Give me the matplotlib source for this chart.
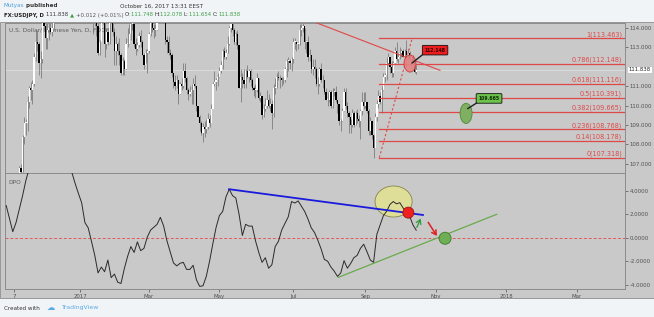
import numpy as np
import pandas as pd
import matplotlib
matplotlib.use('Agg')
import matplotlib.pyplot as plt
from matplotlib.patches import Ellipse, Rectangle
from matplotlib.transforms import blended_transform_factory

W, H = 654, 317

# daily USDJPY sessions from 2016-10-31 (weekdays), one row per week
first_open = 105.2
closes = [
    104.8, 104.1, 102.9, 103.1, 103.1,
    104.5, 105.3, 105.7, 106.8, 106.6,
    108.4, 109.1, 109.1, 110.2, 110.9,
    110.8, 111.1, 112.5, 113.3, 113.2,
    112.2, 112.4, 114.5, 114.1, 113.5,
    113.9, 114.0, 113.8, 114.0, 115.3,
    115.1, 115.4, 117.1, 118.1, 117.9,
    116.9, 117.9, 117.6, 117.5, 117.2,
    117.4, 117.4, 116.9, 116.5, 117.0,
    117.5, 117.8, 117.3, 115.4, 117.0,
    115.9, 115.7, 115.4, 114.4, 114.5,
    114.1, 112.7, 113.3, 115.0, 114.6,
    113.2, 113.8, 113.3, 115.3, 115.1,
    113.8, 112.8, 113.2, 112.8, 112.6,
    111.7, 112.3, 111.9, 113.2, 113.2,
    113.7, 114.2, 114.2, 113.2, 112.9,
    113.1, 113.6, 113.3, 112.6, 112.1,
    112.7, 112.8, 113.7, 114.4, 114.0,
    113.9, 113.9, 114.4, 115.0, 114.8,
    114.8, 114.8, 113.4, 113.3, 112.7,
    112.6, 111.7, 111.2, 111.0, 111.3,
    110.6, 111.1, 111.0, 111.8, 111.4,
    110.8, 110.6, 110.7, 110.8, 111.1,
    111.0, 110.0, 109.4, 109.1, 108.6,
    108.9, 108.8, 108.9, 109.3, 109.1,
    109.8, 111.1, 111.2, 111.3, 111.5,
    111.8, 112.1, 112.8, 112.5, 112.7,
    113.2, 114.0, 114.2, 113.9, 113.3,
    113.7, 113.1, 110.9, 111.5, 111.3,
    111.1, 111.8, 111.5, 111.8, 111.3,
    110.9, 110.8, 110.8, 111.4, 110.4,
    110.5, 109.5, 109.8, 110.0, 110.3,
    110.0, 110.1, 109.6, 110.9, 110.9,
    111.5, 111.4, 111.4, 111.3, 111.3,
    111.9, 112.3, 112.3, 112.2, 112.4,
    113.3, 113.3, 113.2, 113.2, 113.9,
    114.0, 114.1, 113.3, 113.3, 112.5,
    112.6, 111.9, 112.0, 111.9, 111.1,
    111.1, 111.9, 111.3, 111.3, 110.7,
    110.3, 110.3, 110.7, 110.0, 110.7,
    110.7, 110.3, 110.1, 109.2, 109.2,
    109.7, 110.7, 110.0, 109.6, 109.4,
    109.0, 109.6, 109.0, 109.6, 109.3,
    109.2, 109.7, 110.2, 110.0, 110.2,
    109.7, 108.7, 109.2, 108.5, 107.8,
    109.4, 110.1, 110.5, 110.2, 110.8,
    111.5, 111.6, 112.2, 112.5, 112.0,
    111.7, 112.2, 112.8, 112.4, 112.5,
    112.7, 112.8, 112.5, 112.8, 112.6,
    112.7, 112.4, 112.5, 112.3, 111.748,
    111.838,
]
highs = [
    105.4, 105.0, 104.2, 103.5, 103.5,
    104.8, 105.5, 105.9, 106.9, 107.0,
    108.5, 109.4, 109.3, 110.5, 111.0,
    111.2, 111.3, 112.7, 113.9, 113.9,
    113.3, 112.8, 114.8, 114.8, 114.3,
    114.6, 114.4, 114.6, 114.6, 115.4,
    116.1, 115.6, 117.2, 118.7, 118.6,
    117.9, 118.3, 118.2, 117.9, 117.6,
    117.6, 117.8, 117.8, 117.1, 117.1,
    117.5, 118.6, 117.9, 117.5, 117.2,
    117.1, 116.4, 116.9, 115.5, 115.2,
    114.6, 114.3, 113.4, 115.1, 115.4,
    114.5, 114.0, 113.8, 115.4, 115.4,
    115.0, 114.0, 113.6, 113.3, 113.5,
    112.7, 112.5, 112.4, 113.5, 114.0,
    114.2, 114.5, 114.9, 114.3, 113.5,
    113.3, 113.8, 113.9, 113.4, 112.7,
    112.9, 112.9, 113.8, 114.5, 114.7,
    114.2, 114.2, 114.6, 115.2, 115.5,
    115.1, 115.0, 115.2, 113.6, 113.6,
    112.9, 112.7, 111.7, 111.6, 111.6,
    110.9, 111.2, 111.4, 112.2, 112.2,
    111.5, 110.9, 111.0, 111.1, 111.4,
    111.6, 111.0, 110.0, 109.5, 109.2,
    109.1, 109.2, 109.3, 109.6, 109.5,
    110.1, 111.2, 111.8, 111.4, 111.7,
    112.0, 112.3, 112.9, 113.0, 112.9,
    113.6, 114.1, 114.4, 114.3, 114.0,
    113.8, 113.9, 113.0, 111.9, 111.7,
    111.9, 111.9, 112.1, 111.9, 111.9,
    111.4, 111.0, 111.1, 111.7, 111.4,
    110.7, 110.5, 110.1, 110.4, 110.8,
    110.6, 110.4, 110.3, 111.1, 111.4,
    111.7, 111.8, 111.6, 111.5, 111.5,
    112.0, 112.4, 112.5, 112.4, 112.5,
    113.5, 113.5, 113.3, 113.3, 114.2,
    114.2, 114.5, 114.0, 113.4, 113.6,
    112.9, 112.6, 112.4, 112.4, 112.0,
    111.5, 112.0, 112.2, 111.6, 111.3,
    110.9, 110.7, 110.8, 110.8, 110.9,
    110.9, 111.0, 110.3, 110.0, 109.3,
    109.9, 110.9, 110.9, 110.2, 109.7,
    109.3, 109.8, 109.7, 109.7, 109.8,
    109.5, 109.8, 110.7, 110.7, 110.7,
    110.2, 109.8, 109.4, 109.2, 108.5,
    109.6, 110.3, 110.8, 110.7, 111.0,
    111.7, 111.7, 112.5, 112.7, 112.5,
    112.3, 112.3, 113.0, 113.3, 112.7,
    113.0, 112.9, 112.9, 112.9, 113.4,
    112.9, 112.8, 112.6, 112.6, 112.3,
    112.078,
]
lows = [
    104.6, 103.9, 102.5, 102.6, 102.7,
    103.3, 104.4, 101.2, 105.4, 106.0,
    106.6, 108.0, 108.5, 108.7, 109.9,
    110.3, 110.1, 111.0, 112.3, 112.8,
    111.6, 111.4, 112.2, 113.9, 112.9,
    112.9, 113.4, 113.7, 113.6, 113.9,
    114.9, 114.9, 114.8, 116.9, 117.5,
    116.5, 116.6, 117.1, 117.2, 117.0,
    117.2, 117.2, 116.8, 116.0, 116.1,
    117.0, 117.2, 116.8, 115.1, 115.1,
    115.6, 115.4, 114.3, 113.7, 114.1,
    113.6, 112.6, 112.6, 113.8, 114.2,
    112.5, 112.9, 113.1, 113.2, 114.6,
    113.6, 112.1, 112.1, 112.6, 112.1,
    111.6, 111.6, 111.6, 111.9, 113.0,
    113.2, 113.4, 113.9, 113.0, 112.6,
    112.8, 113.0, 113.0, 112.6, 111.9,
    112.2, 111.7, 112.7, 113.6, 113.8,
    113.5, 113.6, 113.9, 114.3, 114.7,
    114.6, 114.5, 113.2, 112.7, 112.6,
    112.4, 111.5, 110.9, 110.8, 110.9,
    110.1, 110.6, 110.8, 110.9, 111.2,
    110.6, 110.3, 110.5, 110.1, 110.1,
    110.9, 109.7, 109.4, 108.7, 108.5,
    108.1, 108.4, 108.6, 108.8, 108.9,
    109.5, 109.9, 111.0, 110.8, 111.0,
    111.5, 111.7, 111.9, 112.4, 112.4,
    112.7, 113.1, 113.8, 113.6, 113.2,
    113.1, 112.9, 110.9, 110.2, 110.9,
    110.9, 110.9, 111.4, 111.2, 111.0,
    110.8, 110.5, 110.4, 110.7, 110.3,
    110.2, 109.3, 109.4, 109.7, 109.9,
    109.9, 109.7, 108.8, 109.4, 110.6,
    110.9, 111.3, 110.9, 111.0, 111.1,
    111.2, 111.5, 111.8, 111.9, 111.8,
    112.2, 112.9, 112.8, 112.9, 113.1,
    113.6, 113.8, 112.9, 112.7, 112.3,
    112.3, 111.7, 111.6, 111.4, 111.0,
    110.6, 111.0, 111.2, 110.9, 110.6,
    110.3, 110.0, 110.2, 109.9, 109.9,
    110.5, 110.2, 109.6, 109.0, 108.7,
    109.2, 109.7, 109.8, 109.4, 108.6,
    108.6, 108.9, 108.9, 109.0, 109.1,
    108.9, 108.3, 109.5, 109.8, 109.9,
    109.6, 108.5, 108.5, 108.3, 107.3,
    108.1, 109.2, 109.9, 110.1, 109.6,
    110.8, 111.2, 111.3, 112.1, 111.7,
    111.5, 111.5, 112.2, 112.3, 112.2,
    112.4, 112.5, 112.5, 112.4, 112.0,
    112.3, 112.3, 112.0, 112.1, 111.7,
    111.654,
]

# DPO, read every second session starting 2016-10-31
dpo_step = 2
dpo = [
    2.75, 1.65, 0.52, 1.3, 2.45, 3.6, 4.9, 5.9, 6.5, 7.2,
    7.8, 8.2, 8.4, 8.3, 8.0, 7.6, 7.2, 6.8, 6.4, 6.0,
    5.6, 4.66, 3.8, 3.0, 1.3, 0.85, -0.3, -1.5, -3.0, -2.5,
    -2.9, -1.9, -3.4, -3.1, -3.8, -3.9, -2.65, -1.6, -0.75, -1.25,
    -0.35, -1.1, -0.9, 0.05, 0.65, 0.9, 1.15, 1.75, 1.0, -0.25,
    -1.2, -2.15, -2.4, -2.18, -2.1, -2.7, -2.7, -2.35, -3.6, -4.15,
    -4.1, -3.3, -2.0, -0.5, 0.9, 1.9, 2.25, 3.5, 4.15, 3.6,
    3.4, 2.0, 0.2, 1.15, 1.0, 1.0, -0.25, -1.25, -2.1, -1.7,
    -2.6, -2.3, -0.75, -0.3, 0.67, 1.24, 1.8, 3.1, 2.97, 3.15,
    2.7, 2.25, 1.6, 0.85, 0.45, -0.2, -0.95, -1.85, -2.0, -2.5,
    -2.85, -3.3, -3.0, -1.95, -2.6, -2.2, -1.7, -1.5, -0.9, -0.55,
    -1.2, -1.9, -2.1, 0.3, 1.1, 1.9, 2.27, 2.85, 3.1, 2.9,
    3.0, 2.55, 2.2, 1.85, 1.1, 0.65,
]

fib_ratio = ['1', '0.786', '0.618', '0.5', '0.382', '0.236', '0.14', '0']
fib_price = [113.463, 112.148, 111.116, 110.391, 109.665, 108.768, 108.178, 107.318]

price_ticks = [107, 108, 109, 110, 111, 113, 114]
dpo_ticks = [-4, -2, 0, 2, 4]

tick_dates = ['2016-11-07', '2017-01-02', '2017-03-01', '2017-05-01', '2017-07-03',
              '2017-09-01', '2017-11-01', '2018-01-01', '2018-03-01']
tick_names = ['7', '2017', 'Mar', 'May', 'Jul', 'Sep', 'Nov', '2018', 'Mar']

sessions = pd.bdate_range('2016-10-31', periods=400)


def pos(d):
    return sessions.get_loc(pd.Timestamp(d))


BG = '#c9c9c9'
GRID = '#8c8c8c'
TXT = '#505050'
RED = '#e04848'
GREEN = '#3f9f47'

fig = plt.figure(figsize=(W / 100, H / 100), dpi=100, facecolor='#f1f4f6')
plt.rcParams['font.family'] = ['DejaVu Sans']


def fx(x, y):
    return x / W, 1 - y / H


# chart background, behind the axes
fig.patches.append(Rectangle(fx(0, 298), 1, (298 - 22) / H, transform=fig.transFigure,
                             fc=BG, ec=GRID, lw=0.6, zorder=-10))

ax = fig.add_axes([5 / W, 1 - 172.7 / H, 620 / W, (172.7 - 23) / H])
ax2 = fig.add_axes([5 / W, 1 - 289.3 / H, 620 / W, (289.3 - 173.3) / H])
x0, x1 = -0.73, 377.3
for a in (ax, ax2):
    a.set_facecolor(BG)
    a.set_xlim(x0, x1)
    for s in a.spines.values():
        s.set_color(GRID)
        s.set_linewidth(0.7)
    a.yaxis.tick_right()
    a.tick_params(axis='y', labelsize=3.9, colors=TXT, length=2.5, width=0.5, pad=1)

# --- candles
closes = np.array(closes)
highs = np.array(highs)
lows = np.array(lows)
opens = np.r_[first_open, closes[:-1]]
idx = np.arange(len(closes))
up = closes >= opens
lo_body = np.minimum(opens, closes)
h_body = np.maximum(np.abs(closes - opens), 0.04)
ax.vlines(idx, lows, highs, color='#6e6e6e', lw=0.5, zorder=2)
ax.bar(idx[up], h_body[up], bottom=lo_body[up], width=0.8, color='white', lw=0, zorder=3)
ax.bar(idx[~up], h_body[~up], bottom=lo_body[~up], width=0.8, color='black', lw=0, zorder=3)
ax.set_ylim(106.54, 114.26)
ax.set_yticks(price_ticks)
ax.set_yticklabels([f'{v:.3f}' for v in price_ticks])
ax.set_xticks([])
ax.axhline(closes[-1], color='#dedede', lw=0.6, zorder=1)
ax.text(0.006, 0.95, 'U.S. Dollar/Japanese Yen, D, FXCM', transform=ax.transAxes,
        fontsize=4.2, color='#5c5c5c', va='center', zorder=1)
tr = blended_transform_factory(ax.transAxes, ax.transData)
ax.text(1.006, closes[-1], '111.838', transform=tr, fontsize=3.9, color='#222',
        va='center', bbox=dict(fc='white', ec='none', pad=0.6))

# fibonacci retracement
fib_start = 227.5
for r, p in zip(fib_ratio, fib_price):
    ax.plot([fib_start, x1], [p, p], color=RED, lw=0.9, zorder=4)
    ax.text(375.5, p + 0.04, f'{r}({p:.3f})', color=RED, fontsize=4.7,
            ha='right', va='bottom', zorder=5)
ax.plot([fib_start, 247.5], [fib_price[-1], fib_price[0]], color=RED, lw=0.8,
        ls=(0, (2, 2)), zorder=4)

# trend line and callouts
ax.plot([189.5, 264.5], [114.26, 111.82], color=RED, lw=0.8, zorder=4)
ax.add_patch(Ellipse((246.2, 112.17), 7.3, 0.88, fc='#e38484', ec='#c83030', lw=0.6, alpha=0.9, zorder=5))
ax.plot([247.5, 255], [112.2, 112.7], color='#202020', lw=1.0, zorder=5)
ax.text(261.5, 112.86, '112.148', fontsize=3.3, fontweight='bold', color='#300000', ha='center',
        va='center', zorder=6, bbox=dict(boxstyle='round,pad=0.5,rounding_size=0.2', fc='#ee1c1c', ec='#111', lw=0.6))
ax.add_patch(Ellipse((280.4, 109.6), 7.3, 1.04, fc='#7fb062', ec='#4d8a3a', lw=0.6, zorder=5))
ax.plot([281.5, 289], [109.85, 110.25], color='#202020', lw=1.0, zorder=5)
ax.text(294.4, 110.37, '109.665', fontsize=3.3, fontweight='bold', color='#0c2a06', ha='center',
        va='center', zorder=6, bbox=dict(boxstyle='round,pad=0.5,rounding_size=0.2', fc='#6cc24a', ec='#111', lw=0.6))

# --- DPO panel
dpo_x = np.arange(len(dpo)) * dpo_step
ax2.plot(dpo_x, dpo, color='#2a2a2a', lw=0.7, zorder=3)
ax2.set_ylim(-4.40, 5.51)
ax2.set_yticks(dpo_ticks)
ax2.set_yticklabels([f'{v:.4f}' for v in dpo_ticks])
ax2.axhline(0, color='#e05a5a', lw=0.7, ls=(0, (3, 2)), zorder=2)
ax2.text(0.006, 0.92, 'DPO', transform=ax2.transAxes, fontsize=4.2, color='#5c5c5c', va='center')
ax2.set_xticks([pos(d) for d in tick_dates])
ax2.set_xticklabels(tick_names)
ax2.tick_params(axis='x', labelsize=3.9, colors=TXT, length=2, width=0.5, pad=1.2)

ax2.plot([135.9, 254.1], [4.15, 1.95], color='#1a1adc', lw=1.3, zorder=4)
ax2.plot([202.5, 299.1], [-3.38, 2.01], color='#6aaa4c', lw=0.9, zorder=4)
ax2.add_patch(Ellipse((236.2, 3.10), 22.6, 2.65, fc='#e6e68a', ec='#6b6b2a', lw=0.6, alpha=0.75, zorder=2))
ax2.add_patch(Ellipse((245.2, 2.15), 6.7, 0.94, fc='#ee2020', ec='#a01010', lw=0.6, zorder=5))
ax2.add_patch(Ellipse((267.6, -0.04), 7.3, 1.03, fc='#6fae55', ec='#3f7a2e', lw=0.6, zorder=5))
ax2.annotate('', xy=(253.4, 1.86), xytext=(249.7, 0.67),
             arrowprops=dict(arrowstyle='->,head_length=0.3,head_width=0.18', color='#2e9a3c', lw=0.9), zorder=6)
ax2.annotate('', xy=(263.5, -0.04), xytext=(256.4, 1.52),
             arrowprops=dict(arrowstyle='->,head_length=0.3,head_width=0.18', color='#e02020', lw=1.1), zorder=6)

# --- header and footer text
r = fig.canvas.get_renderer()


def row(x, y, parts, size=4.1):
    for s, c, bold in parts:
        t = fig.text(*fx(x, y), s, color=c, fontsize=size, va='center',
                     fontweight='bold' if bold else 'normal')
        x += t.get_window_extent(r).width


row(4, 6, [('Mutyas', '#4a9fdc', False), (' published', '#333333', True)])
fig.text(*fx(120, 6), 'October 16, 2017 13:31 EEST', color='#333333', fontsize=4.1, va='center')
row(4, 15, [('FX:USDJPY, D ', '#222222', True), ('111.838 ', '#333333', False),
            ('▲ ', GREEN, False), ('+0.012 (+0.01%) ', '#555555', False),
            ('O:', '#333333', False), ('111.748 ', GREEN, False),
            ('H:', '#333333', False), ('112.078 ', GREEN, False),
            ('L:', '#333333', False), ('111.654 ', GREEN, False),
            ('C:', '#333333', False), ('111.838', GREEN, False)], size=3.9)
fig.text(*fx(4, 308), 'Created with', color='#333333', fontsize=4.1, va='center')
fig.text(*fx(47, 308), '☁', color='#5aa9e6', fontsize=6, va='center')
fig.text(*fx(62, 308), 'TradingView', color='#5aa9e6', fontsize=4.4, va='center')

fig.savefig('out.png', dpi=100, facecolor=fig.get_facecolor())
